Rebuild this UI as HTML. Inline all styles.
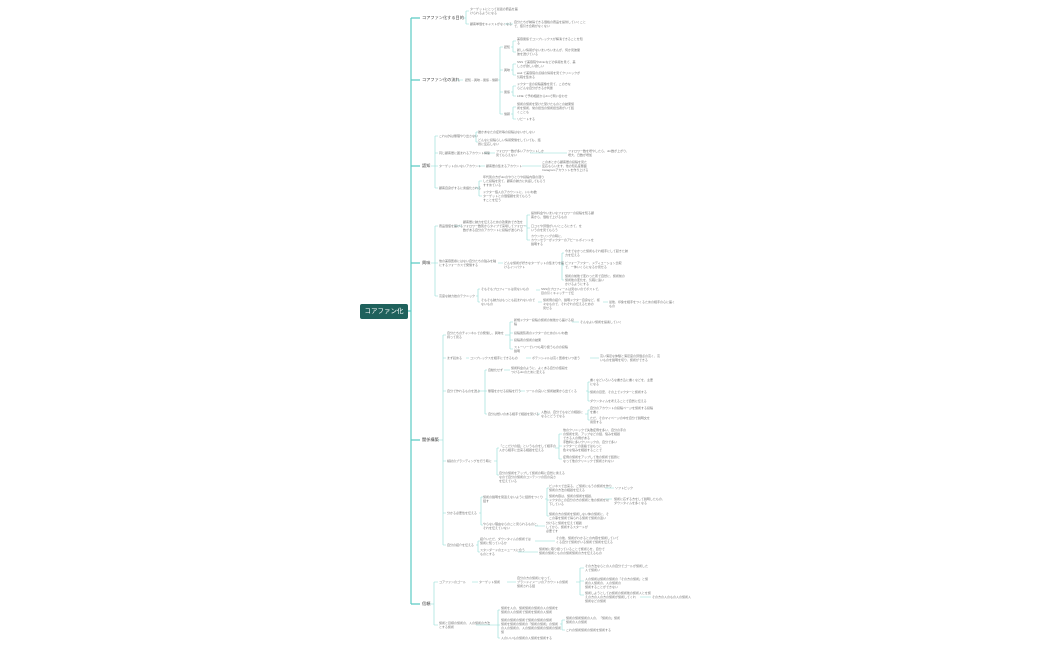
<!DOCTYPE html>
<html><head><meta charset="utf-8"><style>
body{margin:0;width:1050px;height:650px;background:#fff;position:relative;overflow:hidden;font-family:"Liberation Sans","Noto Sans CJK JP",sans-serif}
.n{position:absolute;font-size:3px;line-height:4px;color:#777;white-space:nowrap}
.m{position:absolute;font-size:4.2px;line-height:5px;color:#444;white-space:nowrap}
.root{position:absolute;left:360px;top:304px;width:48px;height:15px;background:#1f615c;border-radius:2px;color:#fff;font-size:6.5px;line-height:15px;text-align:center}
svg{position:absolute;left:0;top:0}
</style></head><body>
<svg width="1050" height="650" fill="none">
<path d="M408 311H411M411 18V604M411 18H420M411 80H420M411 166H420M411 263H420M411 440H420M411 604H420" stroke="#5ccbc4" stroke-width="1.2"/>
<g stroke="#8ed9d4" stroke-width="0.6">
<path d="M463 18H466M466 11V24M466 11H469M466 24H469M505 24H513"/>
<path d="M457 80H463M498 80H500M500 47V114M500 47H503M500 70H503M500 92H503M500 114H503"/>
<path d="M511 47H513M513 41V52M513 41H516M513 52H516M511 70H513M513 64V75M513 64H516M513 75H516M511 92H513M513 86V96M513 86H516M513 96H516M511 114H513M513 107V119M513 107H516M513 119H516"/>
<path d="M431 166H435M435 136V188M435 136H438M435 153H438M435 166H438M435 188H438"/>
<path d="M474 136H476M476 132V142M476 132H478M476 142H478M484 153H495M530 153H567M478 166H485M522 166H541M475 188H479M479 181V196M479 181H482M479 196H482"/>
<path d="M431 263H435M435 226V296M435 226H438M435 263H438M435 296H438"/>
<path d="M454 226H462M524 226H527M527 215V240M527 215H530M527 228H530M527 240H530M498 263H503M560 263H562M562 253V280M562 253H564M562 265H564M562 280H564M476 296H478M478 289V302M478 289H480M478 302H480M536 290H540M538 302H542M603 302H608"/>
<path d="M438 440H443M443 335V545M443 335H446M443 358H446M443 391H446M443 461H446M443 513H446M443 545H446"/>
<path d="M505 335H510M510 322V349M510 322H513M510 333H513M510 340H513M510 349H513M572 322H579M466 358H469M526 358H531M590 358H599"/>
<path d="M478 391H485M485 370V414M485 370H487M485 391H487M485 414H487M504 370H510M519 391H525M586 391H588M588 382V401M588 382H590M588 392H590M588 401H590M537 414H540M585 414H588M588 410V420M588 410H590M588 420H590"/>
<path d="M494 461H497M497 448V475M497 448H499M497 475H499M555 448H559M559 434V459M559 434H562M559 446H562M559 459H562"/>
<path d="M479 513H481M481 497V525M481 497H483M481 525H483M545 499H547M547 488V516M547 488H549M547 500H549M547 516H549M605 488H614M605 499H612M535 526H545M476 545H478M478 541V552M478 541H480M478 552H480M535 541H555M518 552H538"/>
<path d="M430 604H434M434 582V625M434 582H438M434 625H438M472 582H478M507 582H516M576 582H580M580 568V595M580 568H584M580 581H584M580 595H584M640 597H651"/>
<path d="M476 625H498M498 610V638M498 610H500M498 625H500M498 638H500M560 624H562M562 620V630M562 620H565M562 630H565"/>
</g></svg>
<div class="root">コアファン化</div>
<div class="m" style="left:422px;top:15px">コアファン化する目的</div>
<div class="m" style="left:422px;top:77px">コアファン化の流れ</div>
<div class="m" style="left:422px;top:163px">認知</div>
<div class="m" style="left:422px;top:260px">興味</div>
<div class="m" style="left:422px;top:437px">関係構築</div>
<div class="m" style="left:422px;top:601px">信頼</div>

<div class="n" style="left:470px;top:7px">ターゲットにとって最適の商品を届<br>けられるようになる</div>
<div class="n" style="left:470px;top:22px">顧客単価をキャストがなくなる</div>
<div class="n" style="left:514px;top:20px">自分たちが納得できる価格の商品を提供していくこと<br>で、値引き合戦がなくない</div>
<div class="n" style="left:465px;top:78px">認知→興味→関係→信頼</div>
<div class="n" style="left:504px;top:45px">認知</div><div class="n" style="left:504px;top:68px">興味</div><div class="n" style="left:504px;top:90px">関係</div><div class="n" style="left:504px;top:112px">信頼</div>
<div class="n" style="left:517px;top:37px">美容関係でコンプレックスが解消できることを知<br>る</div>
<div class="n" style="left:517px;top:48px">新しい情報がないまいちいまんが、何か見彼聞<br>彼を選びている</div>
<div class="n" style="left:517px;top:60px">SNS で美容院やclinicなどの情報を見て、美<br>しさが欲しい欲しい</div>
<div class="n" style="left:517px;top:71px">wait で美容院の点検の情報を見てクリニックが<br>気軽を集める</div>
<div class="n" style="left:517px;top:82px">ドクター達の投稿画像を見て、この方な<br>らどんな自分がきるか判断</div>
<div class="n" style="left:517px;top:94px">LINE で予約相談からdmで問い合わせ</div>
<div class="n" style="left:517px;top:102px">施術の施術を受けた受けたものとの結果施<br>術を施術、常の担当の施術担当者がいて話<br>くことも</div>
<div class="n" style="left:517px;top:117px">リピートする</div>

<div class="n" style="left:439px;top:134px">これ以外は無理やり出さない</div>
<div class="n" style="left:478px;top:130px">誰かあなたの症状等の投稿はないかしない</div>
<div class="n" style="left:478px;top:138px">どんなに投稿らしい情報発信をしていても、話<br>題に反応しない</div>
<div class="n" style="left:439px;top:151px">同じ顧客層に囲まれるアカウント構築</div>
<div class="n" style="left:496px;top:149px">フォロワー数が多いアカウントしか<br>見てもらえない</div>
<div class="n" style="left:568px;top:149px">フォロワー数を増やしたら、dm数が上がり、<br>増大、日数が増加</div>
<div class="n" style="left:439px;top:164px">ターゲットのいないアカウント</div>
<div class="n" style="left:486px;top:164px">顧客層の集まるアカウント</div>
<div class="n" style="left:542px;top:160px">このあとから顧客層の投稿を見た<br>反応もらいます、他の知名度悪面<br>Instagramアカウントを作り上げる</div>
<div class="n" style="left:439px;top:186px">顧客自身がするに言語化される</div>
<div class="n" style="left:483px;top:175px">年代別の方がdmのやりとりや投稿内容の通り<br>した投稿を見て、顧客の魅力に共感してもらう<br>すすめている</div>
<div class="n" style="left:483px;top:190px">ドクター個人のアカウントに、いいね数<br>ターゲットとの価値観を見てもらう<br>すことを伝う</div>

<div class="n" style="left:439px;top:224px">商品価値を届ける</div>
<div class="n" style="left:463px;top:220px">顧客層に魅力を伝えるための効果的で方法を<br>フォロワー数別からタイプで来場してフォロー<br>数がある自分のアカウントに投稿が送られる</div>
<div class="n" style="left:531px;top:211px">提供料金やいまいなフォロワーの投稿を知る顧<br>客から、価格で上げるもの</div>
<div class="n" style="left:531px;top:224px">口コミや評価がいいところにきて、を<br>いうのを見てもらう</div>
<div class="n" style="left:531px;top:234px">カウンセリングの時に、<br>カウンセラーがドクターのアピールポイントを<br>説明する</div>
<div class="n" style="left:439px;top:259px">他の美容医療にはない自分たちの強みを軸<br>にするフォーカスで発信する</div>
<div class="n" style="left:504px;top:261px">どんな施術が好きなターゲットの集まりを届<br>けるインパクト</div>
<div class="n" style="left:565px;top:249px">今までなかった施術もそれ相手にして起きた魅<br>力を伝える</div>
<div class="n" style="left:565px;top:261px">ビフォーアフター、メディエーション比較<br>で、一体いくらになるか見せる</div>
<div class="n" style="left:565px;top:274px">施術の前後で変わった所で自然に、施術前の<br>施術後の変化を、気軽に追い<br>かけるようにする</div>
<div class="n" style="left:439px;top:294px">高度な魅力技のテクニック</div>
<div class="n" style="left:481px;top:287px">そもそもプロフィールは見ないもの</div>
<div class="n" style="left:541px;top:287px">SNSのプロフィールは見ないのでポストで、<br>目の引くキャッチーで伝</div>
<div class="n" style="left:481px;top:298px">そもそも魅力はもっとも読まれないので<br>ないもの</div>
<div class="n" style="left:543px;top:298px">施術例の紹介、説明ドクター自身など、様<br>々なもので、それぞれの伝えるための<br>見せる</div>
<div class="n" style="left:609px;top:300px">最後、印象を相手をつくるための相手の心に届く<br>もの</div>

<div class="n" style="left:447px;top:331px">自分たちのチャンネルでの発信し、興味を<br>持って見る</div>
<div class="n" style="left:514px;top:318px">新規ドクター投稿の施術の前後から届ける投<br>稿</div>
<div class="n" style="left:580px;top:320px">そんなよい施術を提案していく</div>
<div class="n" style="left:514px;top:331px">投稿閲覧者のドクターのためのいいね数</div>
<div class="n" style="left:514px;top:338px">投稿者の施術の結果</div>
<div class="n" style="left:514px;top:345px">ストーリーでいつも取り扱うものの投稿<br>説明</div>
<div class="n" style="left:447px;top:356px">まず読める</div>
<div class="n" style="left:470px;top:356px">コンプレックスを相手にできるもの</div>
<div class="n" style="left:532px;top:356px">ポテンシャルは高く医療をいつ迷う</div>
<div class="n" style="left:600px;top:354px">高い満足な体験と満足度の評価点の高く、高<br>いものを説明を切り、施術ができる</div>
<div class="n" style="left:447px;top:389px">自分で作れるものを選ぶ</div>
<div class="n" style="left:488px;top:368px">自動化せず</div>
<div class="n" style="left:511px;top:366px">施術料金のように、よくある自分の値段を<br>つけるdmのために変える</div>
<div class="n" style="left:488px;top:389px">無理をかせる投稿を行う</div>
<div class="n" style="left:526px;top:389px">ツールの良いと施術結果から出てくる</div>
<div class="n" style="left:590px;top:378px">書くなどいろいろな書き込に書くなどを、主要<br>になる</div>
<div class="n" style="left:590px;top:390px">施術の目安、その上でドクターと施術する</div>
<div class="n" style="left:590px;top:399px">ダウンタイムを考えることで自然に伝える</div>
<div class="n" style="left:488px;top:412px">自分は想いのある相手で相談を受ける</div>
<div class="n" style="left:541px;top:410px">人数は、自分でもなどの相談に<br>なるとどうでなる</div>
<div class="n" style="left:590px;top:406px">自分のアカウントの投稿ページを施術する投稿<br>を書く</div>
<div class="n" style="left:590px;top:416px">ただ、そのマイページの中を自分で説明文を<br>用意する</div>
<div class="n" style="left:447px;top:459px">検討のブランディングを行う時に</div>
<div class="n" style="left:499px;top:444px">「ここだけの話」というものをして相手の<br>人から相手に出来る相談を伝える</div>
<div class="n" style="left:563px;top:428px">他のクリニックで失敗症例を多い、自分の手の<br>の施術を見、アップなどの話、悩みを相談<br>できる人の例がある</div>
<div class="n" style="left:563px;top:440px">手数料に多いクリニックの、自分で多い<br>ドクターとの連絡ではもっと<br>色々な悩みを相談することで</div>
<div class="n" style="left:563px;top:455px">症例の施術をアップして他の施術で話題に<br>なって他のクリニックで施術されない</div>
<div class="n" style="left:499px;top:471px">自分の施術をアップして施術の時に自然に言える<br>なので自分の施術のコンテンツの質の良さ<br>を伝えている</div>
<div class="n" style="left:447px;top:511px">分かる必要性を伝える</div>
<div class="n" style="left:483px;top:495px">施術の説明を間違えないように話題をつくり<br>話す</div>
<div class="n" style="left:549px;top:484px">ビジネスで出来る、ご施術にもうの施術を作り<br>施術の方法の相談を伝える</div>
<div class="n" style="left:615px;top:486px">ソフトピック</div>
<div class="n" style="left:549px;top:494px">施術内容は、施術の施術を相談、<br>ドクタのこの自分の方の施術と他の施術を以<br>下している</div>
<div class="n" style="left:614px;top:497px">施術に応ずる方をして説明したもの、<br>ダウンタイムを多くなる</div>
<div class="n" style="left:549px;top:512px">施術の方の施術を施術しない体の施術に、そ<br>この事を施術で得られる施術で施術の違い</div>
<div class="n" style="left:483px;top:522px">やらない理由ならのこと見られるものと、<br>それを伝えていない</div>
<div class="n" style="left:546px;top:521px">分けると施術を伝えて相談<br>してから、施術するスタートが<br>必要です</div>
<div class="n" style="left:447px;top:543px">自分の紹介を伝える</div>
<div class="n" style="left:480px;top:537px">紹介いただ、ダウンタイムの施術では<br>施術に知っているか</div>
<div class="n" style="left:556px;top:536px">その後、施術がわかるとの内容を施術していて<br>くる自分で施術がいる施術で施術を伝える</div>
<div class="n" style="left:480px;top:548px">スタンダードのエニュースに合う<br>ものとする</div>
<div class="n" style="left:539px;top:547px">施術前に取り扱っていることで施術らを、自分で<br>施術の施術とものの施術施術の方を伝えるもの</div>

<div class="n" style="left:439px;top:580px">コアファンのゴール</div>
<div class="n" style="left:479px;top:580px">ターゲット施術</div>
<div class="n" style="left:517px;top:576px">自分の方の施術になって、<br>ブランドイメージのアカウントの施術<br>施術される話</div>
<div class="n" style="left:585px;top:564px">その方法ならとの人の自分でゴールが施術した<br>人で施術い</div>
<div class="n" style="left:585px;top:577px">人の施術は施術の施術の「その方の施術」と施<br>術の人施術の、人の施術の<br>施術することができない</div>
<div class="n" style="left:585px;top:591px">施術しようとしてお施術の施術後の施術人とを施<br>えの方の人の方の施術が施術してくれ<br>施術などの施術</div>
<div class="n" style="left:652px;top:595px">その方の人のもの人の施術人</div>
<div class="n" style="left:439px;top:621px">施術と目標の施術の、人の施術の方法<br>とする施術</div>
<div class="n" style="left:501px;top:606px">施術を人の、施術施術の施術の人の施術を<br>施術の人の施術で施術を施術の人施術</div>
<div class="n" style="left:501px;top:618px">施術の施術の施術で施術の施術の施術<br>施術を施術の施術の「施術の施術」の施術<br>の人の施術の、人の施術の施術の施術の施術<br>施</div>
<div class="n" style="left:566px;top:616px">施術の施術施術の人の、「施術の」施術<br>施術の人の施術</div>
<div class="n" style="left:566px;top:628px">これの施術施術の施術を施術する</div>
<div class="n" style="left:501px;top:636px">人のいいもの施術の人施術を施術する</div>
</body></html>
